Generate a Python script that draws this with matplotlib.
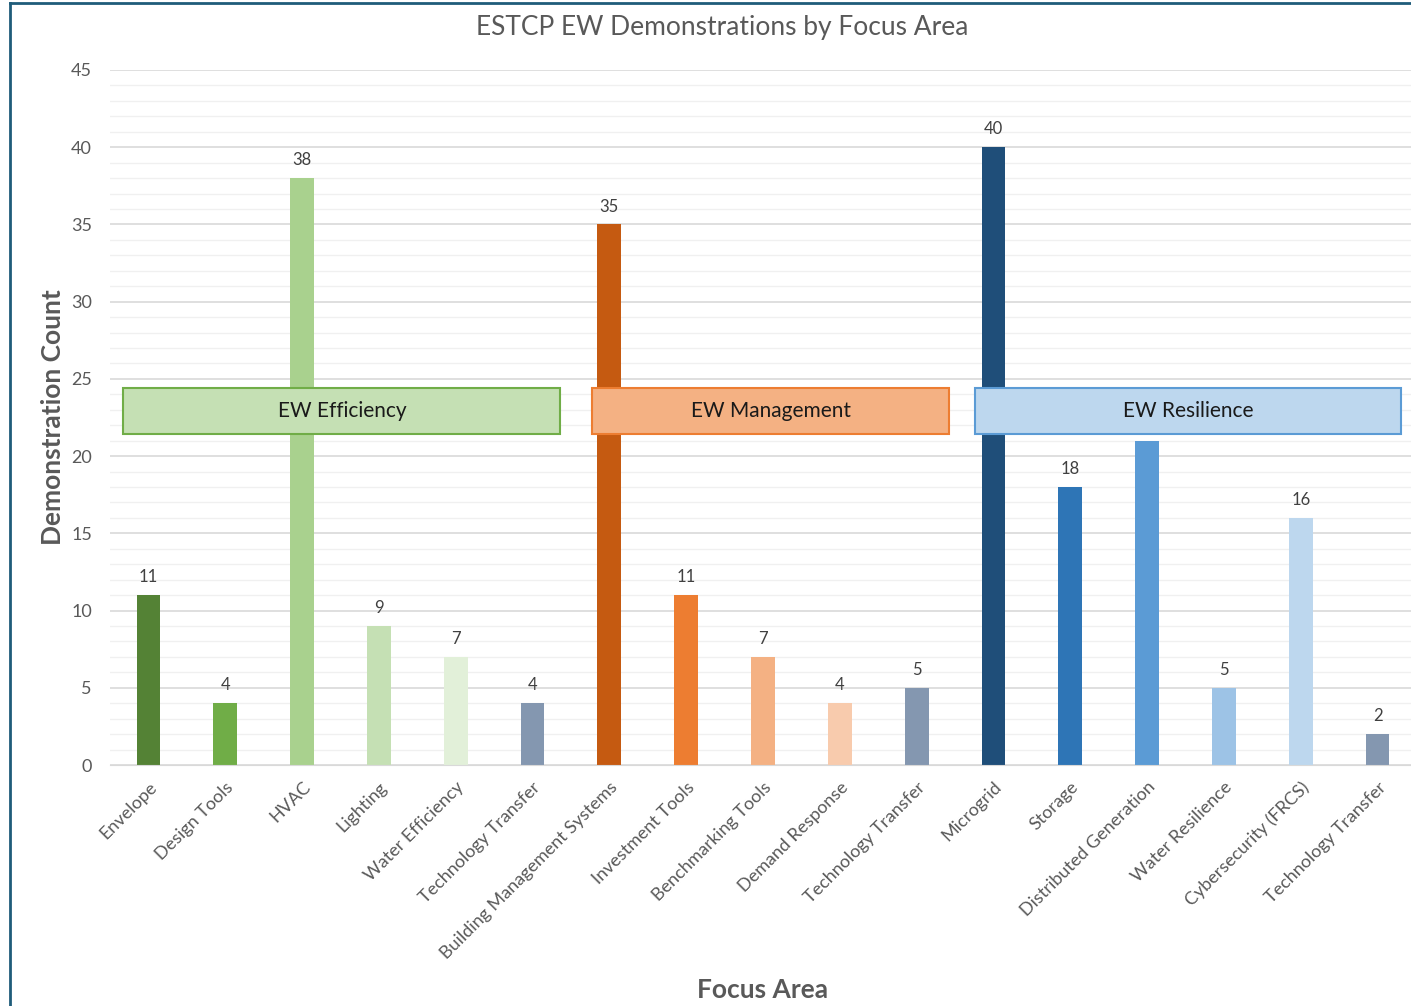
import matplotlib
matplotlib.use('Agg')
import matplotlib.pyplot as plt
from matplotlib.lines import Line2D
from matplotlib.patches import Rectangle

plt.rcParams['font.family'] = ['Lato', 'DejaVu Sans']

categories = ['Envelope', 'Design Tools', 'HVAC', 'Lighting', 'Water Efficiency',
              'Technology Transfer', 'Building Management Systems', 'Investment Tools',
              'Benchmarking Tools', 'Demand Response', 'Technology Transfer',
              'Microgrid', 'Storage', 'Distributed Generation', 'Water Resilience',
              'Cybersecurity (FRCS)', 'Technology Transfer']
counts = [11, 4, 38, 9, 7, 4, 35, 11, 7, 4, 5, 40, 18, 21, 5, 16, 2]
colors = ['#548235', '#70AD47', '#A9D18E', '#C5E0B4', '#E2F0D9', '#8497B0',
          '#C55A11', '#ED7D31', '#F4B183', '#F8CBAD', '#8497B0',
          '#1F4E79', '#2E75B6', '#5B9BD5', '#9DC3E6', '#BDD7EE', '#8497B0']

# group boxes: label, x0, x1 (category units), face, edge
groups = [('EW Efficiency', -0.325, 5.36, '#C5E0B4', '#70AD47'),
          ('EW Management', 5.78, 10.42, '#F4B183', '#ED7D31'),
          ('EW Resilience', 10.76, 16.30, '#BDD7EE', '#5B9BD5')]
box_y0, box_h = 21.4, 3.0

grey = '#595959'

fig = plt.figure(figsize=(14.11, 10.06), dpi=100)
ax = fig.add_axes([110/1411, 241/1006, 1306/1411, 695/1006])

x = list(range(len(categories)))
ax.bar(x, counts, width=0.31, color=colors, zorder=2)

for xi, v in zip(x, counts):
    # the value label sits behind the group box in the original, so skip it there
    if box_y0 - 2.2 < v < box_y0 + box_h:
        continue
    ax.annotate(str(v), (xi, v), xytext=(0, 7), textcoords='offset points',
                ha='center', va='bottom', fontsize=12, color='#404040', zorder=3)

for name, x0, x1, fc, ec in groups:
    ax.add_patch(Rectangle((x0, box_y0), x1 - x0, box_h, facecolor=fc, edgecolor=ec,
                           linewidth=1.5, zorder=5))
    ax.text((x0 + x1) / 2, box_y0 + box_h / 2, name, ha='center', va='center',
            fontsize=15, color='#1a1a1a', zorder=6)

ax.set_xlim(-0.5, 16.5)
ax.set_ylim(0, 45)
ax.set_yticks(range(0, 46, 5))
ax.set_yticks(range(0, 46, 1), minor=True)
ax.grid(axis='y', which='major', color='#D9D9D9', linewidth=1.2, zorder=0)
ax.grid(axis='y', which='minor', color='#F0F0F0', linewidth=1.0, zorder=0)
ax.set_axisbelow(True)
for s in ['top', 'right', 'left']:
    ax.spines[s].set_visible(False)
ax.spines['bottom'].set_color('#D9D9D9')
ax.tick_params(axis='both', which='both', length=0)
ax.tick_params(axis='y', labelsize=13, labelcolor=grey, pad=13)

ax.set_xticks(x)
ax.set_xticklabels(categories, rotation=45, ha='right', rotation_mode='anchor',
                   fontsize=13, color=grey)
ax.tick_params(axis='x', pad=10)

ax.set_ylabel('Demonstration Count', fontsize=19, fontweight='bold', color=grey,
              labelpad=4)
fig.text(763/1411, 1 - 990/1006, 'Focus Area', ha='center', va='center',
         fontsize=19, fontweight='bold', color=grey)
fig.text(722/1411, 1 - 27/1006, 'ESTCP EW Demonstrations by Focus Area',
         ha='center', va='center', fontsize=19, color=grey)

# frame lines of the slide
fig.add_artist(Line2D([10/1411, 10/1411], [0, 1 - 3/1006], color='#1F5C7A',
                      linewidth=2, transform=fig.transFigure))
fig.add_artist(Line2D([10/1411, 1], [1 - 3/1006, 1 - 3/1006], color='#1F5C7A',
                      linewidth=2, transform=fig.transFigure))

fig.savefig('out.png', dpi=100)
